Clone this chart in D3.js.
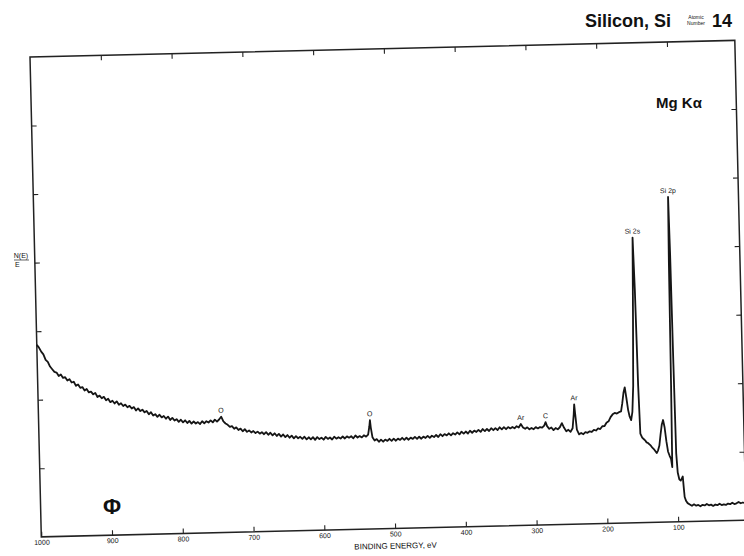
<!DOCTYPE html>
<html>
<head>
<meta charset="utf-8">
<script src="https://cdn.jsdelivr.net/npm/d3@7"></script>
<style>
    body { margin: 0; background: #fff; }
    svg { display: block; }
    text { font-family: 'Liberation Sans', Arial, sans-serif; fill: #111; }
</style>
</head>
<body>
<div id="chart"></div>
<script>
// survey spectrum: [binding energy (eV), N(E)/E in tick units]
const spectrum = [
    [1000, 2.80], [997, 2.76], [994, 2.70], [991, 2.66], [988, 2.58], [985, 2.55], [982, 2.48], [979, 2.44],
    [976, 2.40], [973, 2.39], [970, 2.34], [967, 2.36], [964, 2.31], [961, 2.32], [958, 2.27], [955, 2.29],
    [952, 2.24], [949, 2.25], [946, 2.19], [943, 2.21], [940, 2.16], [937, 2.17], [934, 2.12], [931, 2.14],
    [928, 2.09], [925, 2.10], [922, 2.06], [919, 2.08], [916, 2.02], [913, 2.04], [910, 2.00], [907, 2.02],
    [904, 1.97], [901, 1.99], [898, 1.94], [895, 1.96], [892, 1.92], [889, 1.95], [886, 1.90], [883, 1.92],
    [880, 1.88], [877, 1.90], [874, 1.86], [871, 1.88], [868, 1.84], [865, 1.86], [862, 1.81], [859, 1.84],
    [856, 1.80], [853, 1.82], [850, 1.78], [847, 1.80], [844, 1.75], [841, 1.78], [838, 1.73], [835, 1.75],
    [832, 1.71], [829, 1.74], [826, 1.70], [823, 1.72], [820, 1.68], [817, 1.71], [814, 1.66], [811, 1.69],
    [808, 1.65], [805, 1.67], [802, 1.63], [799, 1.66], [796, 1.62], [793, 1.65], [790, 1.61], [787, 1.64],
    [784, 1.60], [781, 1.63], [778, 1.60], [775, 1.62], [772, 1.59], [769, 1.63], [766, 1.60], [763, 1.63],
    [760, 1.61], [757, 1.64], [754, 1.61], [751, 1.65], [748, 1.62], [745, 1.65], [742, 1.69], [739, 1.62],
    [736, 1.59], [733, 1.57], [730, 1.54], [727, 1.55], [724, 1.51], [721, 1.53], [718, 1.49], [715, 1.51],
    [712, 1.47], [709, 1.50], [706, 1.46], [703, 1.48], [700, 1.45], [697, 1.47], [694, 1.44], [691, 1.46],
    [688, 1.43], [685, 1.45], [682, 1.42], [679, 1.45], [676, 1.41], [673, 1.44], [670, 1.40], [667, 1.43],
    [664, 1.39], [661, 1.42], [658, 1.38], [655, 1.41], [652, 1.37], [649, 1.40], [646, 1.36], [643, 1.39],
    [640, 1.35], [637, 1.38], [634, 1.35], [631, 1.37], [628, 1.34], [625, 1.37], [622, 1.33], [619, 1.36],
    [616, 1.33], [613, 1.36], [610, 1.32], [607, 1.36], [604, 1.33], [601, 1.35], [598, 1.32], [595, 1.36],
    [592, 1.33], [589, 1.35], [586, 1.32], [583, 1.36], [580, 1.33], [577, 1.35], [574, 1.33], [571, 1.36],
    [568, 1.33], [565, 1.36], [562, 1.34], [559, 1.36], [556, 1.33], [553, 1.37], [550, 1.34], [547, 1.36],
    [544, 1.34], [541, 1.37], [538, 1.35], [535, 1.38], [533, 1.50], [532, 1.59], [531, 1.48], [529, 1.34],
    [526, 1.29], [523, 1.31], [520, 1.27], [517, 1.30], [514, 1.27], [511, 1.30], [508, 1.28], [505, 1.31],
    [502, 1.28], [499, 1.31], [496, 1.28], [493, 1.31], [490, 1.29], [487, 1.32], [484, 1.29], [481, 1.32],
    [478, 1.29], [475, 1.32], [472, 1.30], [469, 1.33], [466, 1.30], [463, 1.33], [460, 1.30], [457, 1.33],
    [454, 1.31], [451, 1.34], [448, 1.31], [445, 1.34], [442, 1.32], [439, 1.35], [436, 1.32], [433, 1.36],
    [430, 1.33], [427, 1.36], [424, 1.34], [421, 1.37], [418, 1.34], [415, 1.37], [412, 1.35], [409, 1.38],
    [406, 1.35], [403, 1.39], [400, 1.36], [397, 1.39], [394, 1.36], [391, 1.40], [388, 1.37], [385, 1.40],
    [382, 1.38], [379, 1.41], [376, 1.38], [373, 1.42], [370, 1.39], [367, 1.42], [364, 1.39], [361, 1.43],
    [358, 1.40], [355, 1.43], [352, 1.40], [349, 1.44], [346, 1.41], [343, 1.44], [340, 1.41], [337, 1.44],
    [334, 1.42], [331, 1.44], [328, 1.42], [325, 1.45], [322, 1.43], [319, 1.48], [316, 1.43], [313, 1.41],
    [310, 1.43], [307, 1.40], [304, 1.42], [301, 1.40], [298, 1.43], [295, 1.41], [292, 1.43], [289, 1.42],
    [286, 1.45], [284, 1.50], [282, 1.44], [279, 1.40], [276, 1.42], [273, 1.38], [270, 1.41], [267, 1.39],
    [264, 1.42], [261, 1.48], [258, 1.41], [255, 1.36], [252, 1.38], [249, 1.35], [246, 1.40], [244, 1.60],
    [243, 1.75], [242, 1.62], [240, 1.38], [237, 1.31], [234, 1.33], [231, 1.31], [228, 1.34], [225, 1.33],
    [222, 1.35], [219, 1.34], [216, 1.37], [213, 1.36], [210, 1.39], [207, 1.38], [204, 1.42], [201, 1.42],
    [198, 1.47], [195, 1.49], [192, 1.55], [189, 1.59], [186, 1.61], [183, 1.60], [180, 1.62], [177, 1.63],
    [175, 1.75], [173, 1.90], [171, 1.98], [169, 1.82], [167, 1.65], [165, 1.55], [163, 1.50], [161, 1.62],
    [159, 2.00], [157, 3.00], [155, 4.16], [153.5, 3.40], [152, 2.00], [150.5, 1.30], [148, 1.24], [146, 1.22],
    [144, 1.20], [142, 1.17], [140, 1.16], [138, 1.14], [136, 1.12], [134, 1.09], [132, 1.07], [130, 1.04],
    [128, 1.01], [126, 1.05], [124, 1.12], [122, 1.28], [120, 1.42], [118, 1.49], [116, 1.38], [114, 1.18],
    [112, 1.03], [110, 0.97], [108, 0.92], [106.5, 0.80], [105.5, 2.00], [104.5, 3.80], [103.5, 4.74], [102.5, 3.90],
    [101.5, 2.30], [100.5, 1.00], [99, 0.72], [97, 0.62], [95, 0.60], [93, 0.64], [92, 0.66], [91, 0.50],
    [90, 0.36], [88, 0.30], [86, 0.27], [83, 0.25], [80, 0.23], [77, 0.25], [74, 0.23], [71, 0.24],
    [68, 0.22], [65, 0.24], [62, 0.23], [59, 0.25], [56, 0.23], [53, 0.24], [50, 0.22], [47, 0.24],
    [44, 0.23], [41, 0.25], [38, 0.23], [35, 0.24], [32, 0.23], [29, 0.25], [26, 0.24], [23, 0.26],
    [20, 0.24], [17, 0.25], [14, 0.27], [11, 0.25], [8, 0.26], [5, 0.25]
]

const peakLabels = [
    { name: 'O', energy: 742, level: 1.69 },
    { name: 'O', energy: 532, level: 1.59 },
    { name: 'Ar', energy: 319, level: 1.48 },
    { name: 'C', energy: 284, level: 1.50 },
    { name: 'Ar', energy: 243, level: 1.75 },
    { name: 'Si 2s', energy: 155, level: 4.16 },
    { name: 'Si 2p', energy: 103.5, level: 4.74 }
]

const xTicks = [1000, 900, 800, 700, 600, 500, 400, 300, 200, 100]
const yTicks = [1, 2, 3, 4, 5, 6]

const origin = { x: 30, y: 57 }
const width = 705
const height = 480
const tilt = -1.35 // the scanned page sits a little crooked

const svg = d3.select('#chart')
    .append('svg')
    .attr('width', 744)
    .attr('height', 556)

const plot = svg.append('g')
    .attr('transform', `translate(${origin.x},${origin.y}) rotate(${tilt})`)

const x = d3.scaleLinear().domain([1000, 4]).range([0, width])
const y = d3.scaleLinear().domain([0, 7]).range([height, 0])

const styleAxis = g => {
    g.attr('font-family', "'Liberation Sans', Arial, sans-serif")
        .attr('font-size', 7)
        .attr('color', '#222')
    g.select('.domain').remove()
    g.selectAll('line').attr('stroke-width', 1.1)
}

plot.append('g')
    .attr('transform', `translate(0,${height})`)
    .call(d3.axisBottom(x).tickValues(xTicks).tickSize(-5).tickPadding(3).tickFormat(d => d))
    .call(styleAxis)

plot.append('g')
    .call(d3.axisTop(x).tickValues(xTicks.slice(1)).tickSize(-5).tickFormat(''))
    .call(styleAxis)

plot.append('g')
    .call(d3.axisLeft(y).tickValues(yTicks).tickSize(-5).tickFormat(''))
    .call(styleAxis)

plot.append('g')
    .attr('transform', `translate(${width},0)`)
    .call(d3.axisRight(y).tickValues(yTicks).tickSize(-5).tickFormat(''))
    .call(styleAxis)

plot.append('rect')
    .attr('x', 0)
    .attr('y', 0)
    .attr('width', width)
    .attr('height', height)
    .attr('fill', 'none')
    .attr('stroke', '#222')
    .attr('stroke-width', 1.5)

plot.append('path')
    .datum(spectrum)
    .attr('fill', 'none')
    .attr('stroke', '#151515')
    .attr('stroke-width', 1.8)
    .attr('stroke-linejoin', 'round')
    .attr('d', d3.line()
        .x(d => x(d[0]))
        .y(d => y(d[1])))

plot.selectAll('.peak')
    .data(peakLabels)
    .join('text')
    .attr('class', 'peak')
    .attr('x', d => x(d.energy))
    .attr('y', d => y(d.level) - 4)
    .attr('text-anchor', 'middle')
    .attr('font-size', 7)
    .text(d => d.name)

plot.append('text')
    .attr('x', x(500))
    .attr('y', height + 20)
    .attr('text-anchor', 'middle')
    .attr('font-size', 8)
    .text('BINDING ENERGY, eV')

// y label N(E)/E
svg.append('text').attr('x', 21).attr('y', 258).attr('text-anchor', 'middle').attr('font-size', 7).text('N(E)')
svg.append('line').attr('x1', 14).attr('x2', 29).attr('y1', 260).attr('y2', 260).attr('stroke', '#222').attr('stroke-width', 0.7)
svg.append('text').attr('x', 15).attr('y', 267).attr('font-size', 7).text('E')

// header
svg.append('text')
    .attr('x', 585)
    .attr('y', 27)
    .attr('font-size', 18)
    .attr('font-weight', 'bold')
    .text('Silicon, Si')
svg.append('text').attr('x', 696).attr('y', 19).attr('text-anchor', 'middle').attr('font-size', 5).text('Atomic')
svg.append('text').attr('x', 696).attr('y', 25).attr('text-anchor', 'middle').attr('font-size', 5).text('Number')
svg.append('text')
    .attr('x', 712)
    .attr('y', 27)
    .attr('font-size', 18)
    .attr('font-weight', 'bold')
    .text('14')

svg.append('text')
    .attr('x', 656)
    .attr('y', 108)
    .attr('font-size', 15)
    .attr('font-weight', 'bold')
    .text('Mg Kα')

svg.append('text')
    .attr('x', 112)
    .attr('y', 514)
    .attr('text-anchor', 'middle')
    .attr('font-family', "'DejaVu Sans', sans-serif")
    .attr('font-size', 22)
    .attr('font-weight', 'bold')
    .text('Φ')
</script>
</body>
</html>
